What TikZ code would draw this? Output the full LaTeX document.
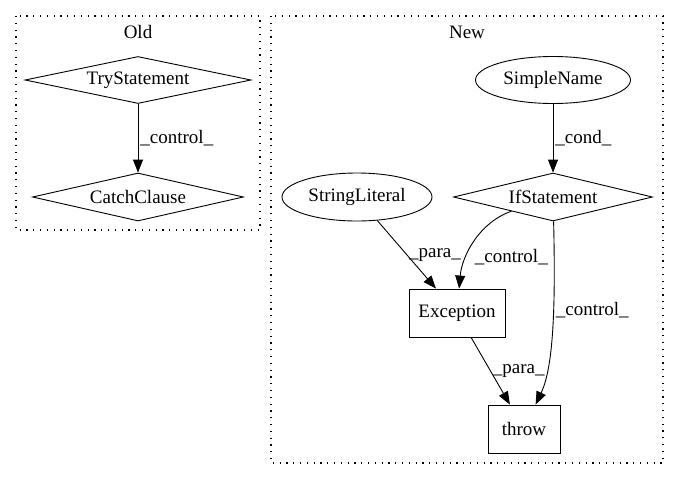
\documentclass[tikz,border=0pt]{standalone}
\usepackage{fontspec}
\setmainfont{Liberation Serif}
\usetikzlibrary{shapes.geometric,arrows.meta,calc}

\begin{document}
\begin{tikzpicture}[x=1pt,y=-1pt,font=\fontsize{19}{21}\selectfont,
					cluster/.style={line width=1.1pt,dash pattern=on 1.2pt off 5.6pt},
					diam/.style={draw,line width=0.9pt,diamond,inner sep=0pt,aspect=4.5},
					ell/.style={draw,line width=0.9pt,ellipse,inner sep=0pt},
					box/.style={draw,line width=0.9pt,rectangle,inner sep=0pt},
					edge/.style={line width=0.9pt,-{Triangle[length=13pt,width=10pt]}},
					lbl/.style={anchor=west,inner sep=2pt}]
					\useasboundingbox (0,0) rectangle (679,480);
					% clusters
					\draw[cluster] (16,16) rectangle (260,230);
					\draw[cluster] (271,16) rectangle (663,463);
					\node (oldlbl) at (138,32) {Old};
					\node (newlbl) at (467,32) {New};
					
					\node[diam,minimum width=226pt,minimum height=47pt] (trystmt) at (138,80) {TryStatement};
					\node[diam,minimum width=211pt,minimum height=48pt] (catchcl) at (138,197) {CatchClause};
					\node[ell,minimum width=155pt,minimum height=47pt] (simplename) at (553,80) {SimpleName};
					\node[diam,minimum width=199pt,minimum height=48pt] (ifstmt) at (553,197) {IfStatement};
					\node[ell,minimum width=150pt,minimum height=48pt] (strlit) at (357,197) {StringLiteral};
					\node[box,minimum width=96pt,minimum height=48pt] (exception) at (457,313) {Exception};
					\node[box,minimum width=72pt,minimum height=48pt] (throw) at (524,429) {throw};
					
					\draw[edge] (trystmt) -- node[lbl] {\_control\_} (catchcl);
					\draw[edge] (simplename) -- node[lbl] {\_cond\_} (ifstmt);
					\draw[edge] (strlit) -- node[lbl] {\_para\_} (exception);
					\draw[edge] (ifstmt) .. controls (480,222) and (462,255) .. node[lbl,pos=0.68,xshift=6pt] {\_control\_} (exception);
					\draw[edge] (ifstmt) .. controls (556,320) and (552,370) .. node[lbl,pos=0.36] {\_control\_} (throw);
					\draw[edge] (exception) -- node[lbl] {\_para\_} (throw);
				\end{tikzpicture}
\end{document}
